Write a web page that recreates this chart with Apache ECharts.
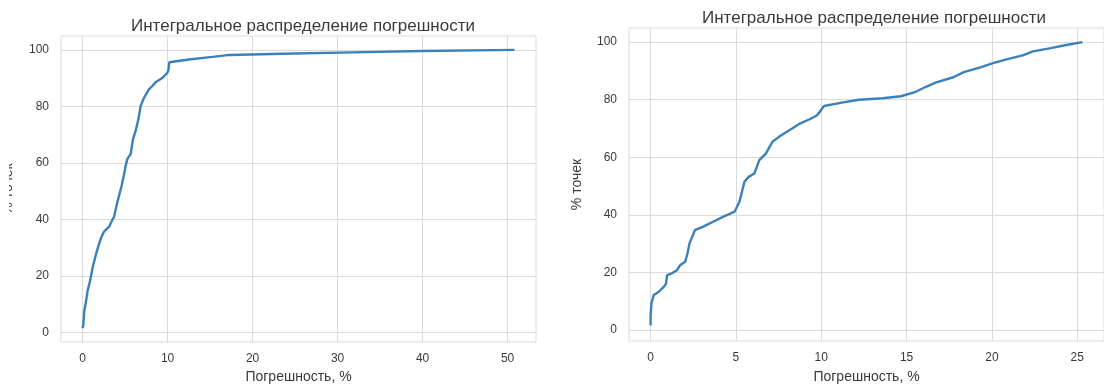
<!DOCTYPE html>
<html>
<head>
<meta charset="utf-8">
<script src="https://cdn.jsdelivr.net/npm/echarts@6/dist/echarts.min.js"></script>
<style>
  html, body { margin: 0; padding: 0; background: #fff; }
  #chart { width: 1104px; height: 389px; }
</style>
</head>
<body>
<div id="chart"></div>
<script>
// Cumulative error distribution, full range (left panel)
const errLeft = [0, 0.08, 0.2, 0.4, 0.59, 0.9, 1.17, 1.56, 1.9, 2.15,
  2.5, 2.73, 3.12, 3.45, 3.7, 4.1, 4.6, 4.95, 5.07, 5.27,
  5.66, 5.93, 6.24, 6.56, 6.83, 7.22, 7.8, 8.2, 8.58, 9.37,
  9.95, 10.1, 10.2, 10.4, 12.5, 15.3, 17.3, 23.5, 31.7, 39.9,
  50.8];
const pctLeft = [1.5, 2.5, 7.6, 11, 14.7, 18.5, 22.8, 27.5, 31, 33.3,
  35.5, 36.3, 37.4, 39.5, 40.9, 46.2, 52, 57, 59, 61.4,
  63.2, 68.4, 71.3, 75.4, 80.1, 83, 86, 87.2, 88.5, 90,
  91.8, 92.8, 95.6, 96, 96.6, 97.5, 98.2, 98.6, 99.1, 99.6,
  100];

// Cumulative error distribution, errors up to ~25 % (right panel)
const errRight = [0, 0, 0.05, 0.19, 0.48, 0.77, 0.9, 0.97, 1.25, 1.54,
  1.74, 2.03, 2.16, 2.28, 2.6, 3.08, 3.66, 4.24, 4.7, 4.92,
  5.2, 5.5, 5.75, 6.08, 6.37, 6.75, 7.14, 7.52, 8.29, 8.68,
  9.35, 9.76, 10.16, 11.2, 12.2, 13.6, 14.67, 15.48, 16.1, 16.7,
  17.73, 18.35, 19.37, 19.97, 20.8, 21.8, 22.4, 23.45, 24.27, 25.3];
const pctRight = [1.7, 5, 9.3, 12.2, 13.3, 15, 16, 19.1, 19.7, 20.8,
  22.6, 23.7, 26.6, 30.1, 34.7, 35.9, 37.6, 39.3, 40.5, 41.1,
  44.5, 51.5, 53.2, 54.4, 59, 61.3, 65.4, 67.1, 70, 71.5,
  73.3, 74.6, 77.8, 79, 80, 80.5, 81.2, 82.6, 84.4, 85.9,
  87.8, 89.6, 91.3, 92.5, 93.9, 95.4, 96.8, 97.9, 98.9, 100];

const xTicksLeft = [0, 10, 20, 30, 40, 50];
const xTicksRight = [0, 5, 10, 15, 20, 25];
const yTicks = [0, 20, 40, 60, 80, 100];

const titleText = 'Интегральное распределение погрешности';
const xName = 'Погрешность, %';
const yName = '% точек';

const FONT = '"Liberation Sans", Arial, sans-serif';
const GRID_COLOR = '#dadada';
const TEXT_COLOR = '#3a3a3a';
const LINE_COLOR = '#3a80ba';

function pairs(xs, ys) { return xs.map((x, i) => [x, ys[i]]); }

function xAxis(gridIndex, min, max, ticks, nameGap) {
  return {
    type: 'value', gridIndex, min, max,
    name: xName, nameLocation: 'middle', nameGap,
    nameTextStyle: { color: TEXT_COLOR, fontSize: 14, fontFamily: FONT },
    axisLine: { show: false },
    axisTick: { show: false, customValues: ticks },
    axisLabel: { customValues: ticks, color: TEXT_COLOR, fontSize: 12, fontFamily: FONT, margin: 11 },
    splitLine: { show: true, lineStyle: { color: GRID_COLOR, width: 1 } }
  };
}

function yAxis(gridIndex, min, max, nameGap) {
  return {
    type: 'value', gridIndex, min, max,
    name: yName, nameLocation: 'middle', nameGap, nameRotate: 90,
    nameTextStyle: { color: TEXT_COLOR, fontSize: 14, fontFamily: FONT },
    axisLine: { show: false },
    axisTick: { show: false, customValues: yTicks },
    axisLabel: { customValues: yTicks, color: TEXT_COLOR, fontSize: 12, fontFamily: FONT, margin: 12 },
    splitLine: { show: true, lineStyle: { color: GRID_COLOR, width: 1 } }
  };
}

const chart = echarts.init(document.getElementById('chart'), null, { renderer: 'canvas' });
chart.setOption({
  backgroundColor: '#ffffff',
  animation: false,
  title: [
    { text: titleText, left: 298, top: 13, textAlign: 'center',
      textStyle: { color: TEXT_COLOR, fontSize: 17, fontWeight: 'normal', fontFamily: FONT } },
    { text: titleText, left: 869, top: 5, textAlign: 'center',
      textStyle: { color: TEXT_COLOR, fontSize: 17, fontWeight: 'normal', fontFamily: FONT } }
  ],
  grid: [
    { left: 60, top: 36, width: 476, height: 309, show: true, borderColor: GRID_COLOR, borderWidth: 1, backgroundColor: 'transparent' },
    { left: 629, top: 28, width: 481, height: 313, show: true, borderColor: GRID_COLOR, borderWidth: 1, backgroundColor: 'transparent' }
  ],
  xAxis: [
    xAxis(0, -2.54, 53.34, xTicksLeft, 28),
    xAxis(1, -1.265, 26.565, xTicksRight, 29)
  ],
  yAxis: [
    yAxis(0, -3.4, 104.9, 46),
    yAxis(1, -3.8, 104.9, 45)
  ],
  series: [
    { type: 'line', xAxisIndex: 0, yAxisIndex: 0, data: pairs(errLeft, pctLeft),
      showSymbol: false, lineStyle: { color: LINE_COLOR, width: 2.4 } },
    { type: 'line', xAxisIndex: 1, yAxisIndex: 1, data: pairs(errRight, pctRight),
      showSymbol: false, lineStyle: { color: LINE_COLOR, width: 2.4 } }
  ],
  graphic: [
    // the left panel's y-axis label is cut at the page edge
    { type: 'rect', left: 0, top: 100, z: 100, shape: { width: 9, height: 170 }, style: { fill: '#ffffff' } }
  ]
});
</script>
</body>
</html>
